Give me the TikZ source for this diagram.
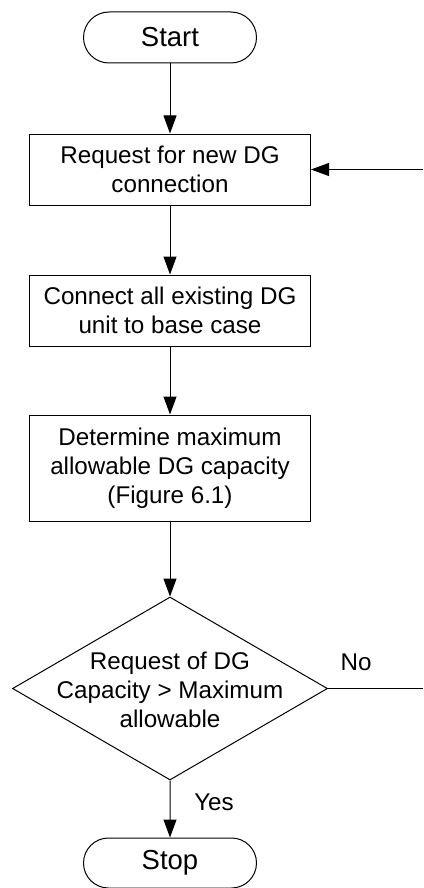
\documentclass[tikz,border=0pt]{standalone}
\usepackage{fontspec}
\setmainfont{Liberation Sans}
\usetikzlibrary{shapes.misc,shapes.geometric,arrows.meta}
\begin{document}
\begin{tikzpicture}[x=1pt,y=-1pt,
  every node/.style={font=\fontsize{24.2}{29}\selectfont, text=black},
  term/.style={draw, line width=1pt, rounded rectangle, minimum width=173pt, minimum height=51pt, inner sep=0pt, font=\fontsize{27.5}{32}\selectfont},
  procbox/.style={draw, line width=1pt, rectangle, minimum width=281pt, inner sep=0pt, align=center},
  decision/.style={draw, line width=1pt, diamond, aspect=1.72, minimum width=315pt, minimum height=183pt, inner sep=0pt, align=center},
  flow/.style={line width=1pt, -{Triangle[length=18pt,width=13pt]}},
  plain/.style={line width=1pt}
]
\useasboundingbox (0,0) rectangle (423,888);

\node[term] (start) at (170,37.5) {Start};
\node[procbox, minimum height=71pt] (req) at (170,169.5) {Request for new DG\\connection};
\node[procbox, minimum height=71pt] (conn) at (170,310.5) {Connect all existing DG\\unit to base case};
\node[procbox, minimum height=106pt] (det) at (170,468) {Determine maximum\\allowable DG capacity\\(Figure 6.1)};
\node[decision] (dec) at (170,688.5) {};
\node[align=center] (dectext) at (170,690) {Request of DG\\Capacity > Maximum\\allowable};
\node[term, minimum height=50pt] (stop) at (170,863) {Stop};

\coordinate (noend) at (423,688.5);
\coordinate (backin) at (423,169.5);

\draw[flow] (start) -- (req);
\draw[flow] (req) -- (conn);
\draw[flow] (conn) -- (det);
\draw[flow] (det) -- (dec.north);
\draw[flow] (dec.south) -- (stop);
\draw[plain] (dec.east) -- (noend);
\draw[flow] (backin) -- (req.east);

\node (no) at (356,662) {No};
\node (yes) at (214,802) {Yes};
\end{tikzpicture}
\end{document}
